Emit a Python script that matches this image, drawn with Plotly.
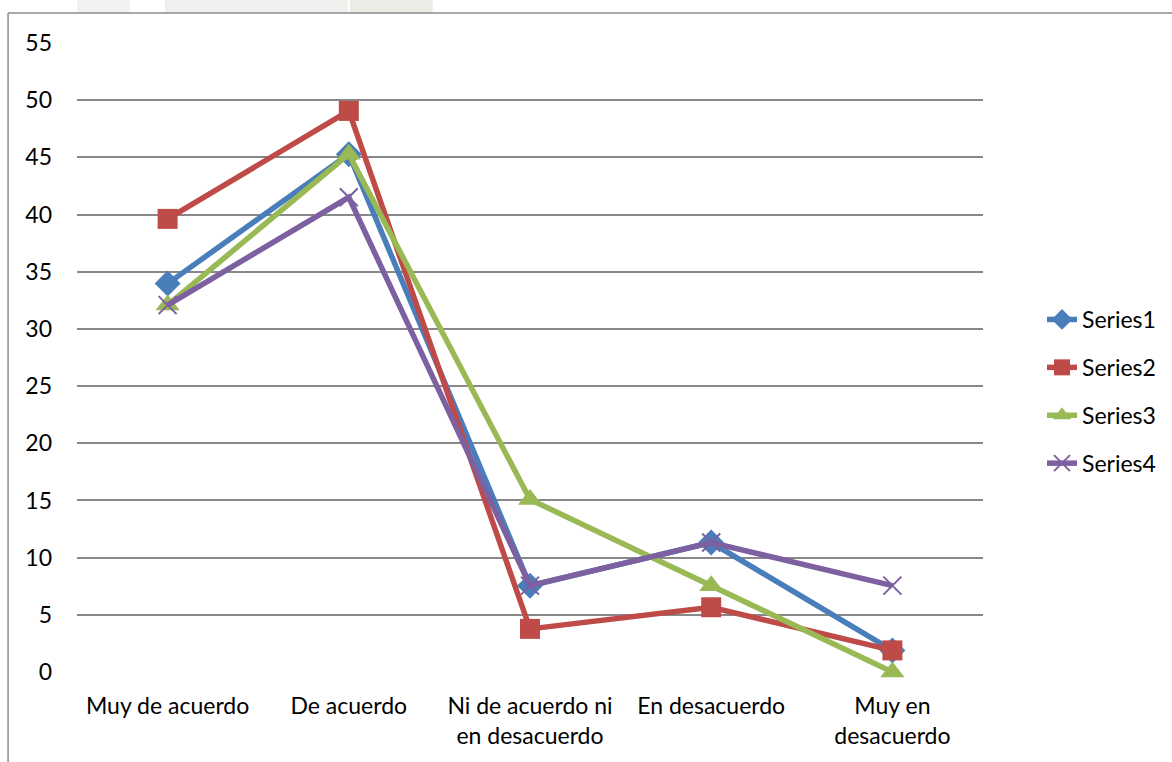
import plotly.graph_objects as go

categories = ["Muy de acuerdo", "De acuerdo", "Ni de acuerdo ni<br>en desacuerdo",
              "En desacuerdo", "Muy en<br>desacuerdo"]
series1 = [33.96, 45.28, 7.55, 11.32, 1.89]
series2 = [39.62, 49.06, 3.77, 5.66, 1.89]
series3 = [32.08, 45.28, 15.09, 7.55, 0.0]
series4 = [32.08, 41.51, 7.55, 11.32, 7.55]
series_names = ["Series1", "Series2", "Series3", "Series4"]
y_ticks = list(range(0, 56, 5))

colors = ["#4A7EBB", "#BE4B48", "#98B954", "#7D60A0"]
symbols = ["diamond", "square", "triangle-up", "x-thin"]
sizes = [20, 20, 21, 18]

fig = go.Figure()
for i, (name, vals) in enumerate(zip(series_names, [series1, series2, series3, series4])):
    marker = dict(symbol=symbols[i], size=sizes[i], color=colors[i])
    if symbols[i] == "x-thin":
        marker["line"] = dict(color=colors[i], width=2)
    fig.add_trace(go.Scatter(
        x=categories, y=vals, name=name, mode="lines+markers",
        line=dict(color=colors[i], width=5.5),
        marker=marker, legendgroup=name, cliponaxis=False,
    ))

W, H = 1172, 762
L, R, T, B = 77, 188, 43, 90
pw, ph = W - L - R, H - T - B

def px_x(x):
    return (x - L) / pw

def px_y(y):
    return (H - B - y) / ph

shapes = [
    # faint background band along the top edge
    dict(type="rect", xref="paper", yref="paper", x0=px_x(77), x1=px_x(130),
         y0=px_y(13), y1=px_y(0), fillcolor="rgba(232,235,230,0.6)", line_width=0, layer="below"),
    dict(type="rect", xref="paper", yref="paper", x0=px_x(165), x1=px_x(348),
         y0=px_y(13), y1=px_y(0), fillcolor="rgba(230,233,228,0.7)", line_width=0, layer="below"),
    dict(type="rect", xref="paper", yref="paper", x0=px_x(350), x1=px_x(433),
         y0=px_y(13), y1=px_y(0), fillcolor="rgba(224,230,220,0.7)", line_width=0, layer="below"),
    # chart frame
    dict(type="line", xref="paper", yref="paper", x0=px_x(8), x1=px_x(1200),
         y0=px_y(13), y1=px_y(13), line=dict(color="#8C8C8C", width=1.5)),
    dict(type="line", xref="paper", yref="paper", x0=px_x(8), x1=px_x(8),
         y0=px_y(13), y1=px_y(800), line=dict(color="#8C8C8C", width=1.5)),
]

fig.update_layout(
    width=W, height=H,
    margin=dict(l=L, r=R, t=T, b=B),
    paper_bgcolor="white", plot_bgcolor="white",
    font=dict(family="Lato, sans-serif", size=23, color="#000000"),
    showlegend=True,
    legend=dict(x=px_x(1042), xanchor="left", y=px_y(298), yanchor="top",
                font=dict(size=23), tracegroupgap=15, bgcolor="rgba(0,0,0,0)"),
    shapes=shapes,
)
fig.update_xaxes(
    type="category", range=[-0.5, 4.5], showgrid=False, showline=False,
    zeroline=False, ticks="", ticklabelstandoff=18,
)
fig.update_yaxes(
    range=[0, 55], tickvals=y_ticks, showgrid=True, gridcolor="#888888",
    gridwidth=1.5, zeroline=False, showline=False, ticks="", ticklabelstandoff=24,
)

fig.write_html("out.html")
